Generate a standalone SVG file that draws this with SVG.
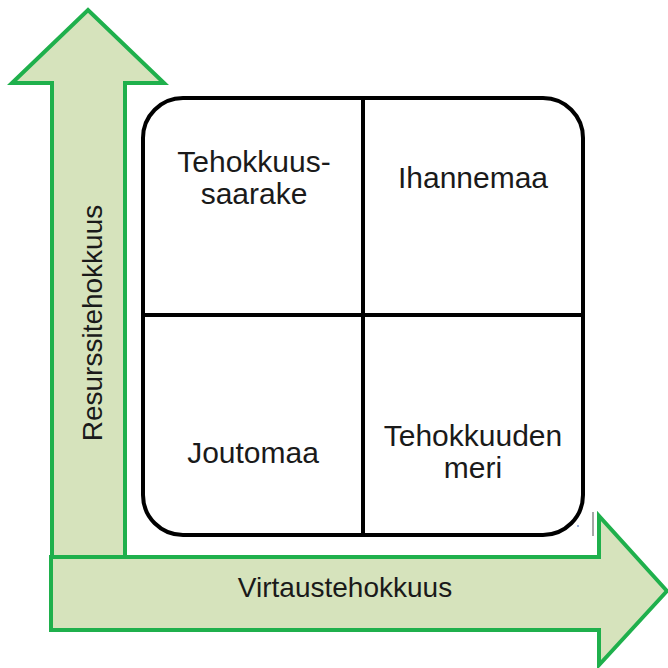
<svg xmlns="http://www.w3.org/2000/svg" width="668" height="668" viewBox="0 0 668 668">
  <style>
    .axis { fill: #d6e3bc; stroke: #1fb04c; stroke-width: 4; stroke-linejoin: miter; }
    .grid { fill: #ffffff; stroke: #000000; stroke-width: 4; }
    .div { stroke: #000000; stroke-width: 4; }
    .lbl { font-family: "Liberation Sans", Arial, sans-serif; font-size: 30px; fill: #1a1a1a; text-anchor: middle; }
    .axl { font-family: "Liberation Sans", Arial, sans-serif; font-size: 28px; fill: #1a1a1a; text-anchor: middle; }
  </style>
  <rect width="668" height="668" fill="#ffffff"/>

  <!-- vertical axis arrow -->
  <g id="axis-y">
    <path class="axis" d="M52,558 L52,83 L12,83 L88,10 L164,83 L125,83 L125,558"/>
    <text class="axl" transform="translate(102,323) rotate(-90)">Resurssitehokkuus</text>
  </g>

  <!-- horizontal axis arrow -->
  <g id="axis-x">
    <path class="axis" d="M51,557 L599,557 L599,516 L667,591 L599,665 L599,630 L51,630 Z"/>
    <text class="axl" x="345" y="597">Virtaustehokkuus</text>
  </g>

  <!-- four-field grid -->
  <g id="grid">
    <rect class="grid" x="143" y="98" width="440" height="437" rx="40" ry="40"/>
    <line class="div" x1="363" y1="98" x2="363" y2="535"/>
    <line class="div" x1="143" y1="315" x2="583" y2="315"/>
  </g>

  <g id="q-top-left">
    <text class="lbl" x="254" y="172">Tehokkuus-</text>
    <text class="lbl" x="254" y="204">saarake</text>
  </g>
  <g id="q-top-right">
    <text class="lbl" x="473" y="188">Ihannemaa</text>
  </g>
  <g id="q-bottom-left">
    <text class="lbl" x="253" y="463">Joutomaa</text>
  </g>
  <g id="q-bottom-right">
    <text class="lbl" x="473" y="446">Tehokkuuden</text>
    <text class="lbl" x="473" y="478">meri</text>
  </g>

  <!-- small marks near the lower right corner -->
  <line x1="593" y1="512" x2="593" y2="536" stroke="#8a8a8a" stroke-width="1.5"/>
  <rect x="577" y="525" width="2" height="2" fill="#9fb4e0"/>
</svg>
